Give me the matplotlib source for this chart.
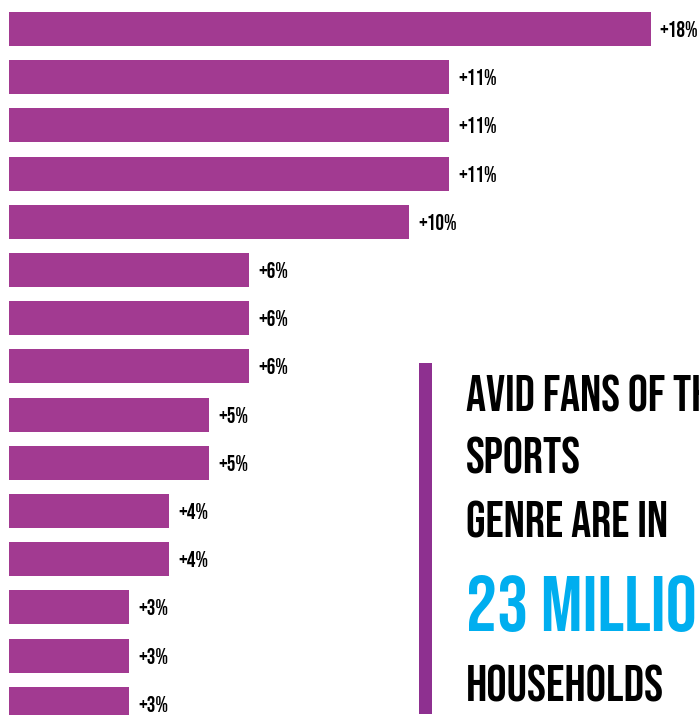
import matplotlib
matplotlib.use("Agg")
import matplotlib.pyplot as plt
import numpy as np
from matplotlib.patches import Rectangle

# Growth per genre, top to bottom
values = [18, 11, 11, 11, 10, 6, 6, 6, 5, 5, 4, 4, 3, 3, 3]
value_labels = [f"+{v}%" for v in values]

headline = ["AVID FANS OF THE", "SPORTS", "GENRE ARE IN"]
highlight = "23 MILLION"
footer = "HOUSEHOLDS"

bar_color = "#A23A91"
rule_color = "#8E3090"
blue = "#00AEEF"
FONT = ["Bebas Neue", "DejaVu Sans"]

W, H = 699, 715
fig = plt.figure(figsize=(W / 100, H / 100), dpi=100)
ax = fig.add_axes([0, 0, 1, 1])

# compress the axis past 11% so the longest bar still fits
knee, k = 11.0, 0.718


def fwd(x):
    x = np.asarray(x, dtype=float)
    return np.where(x <= knee, x, knee + (x - knee) * k)


def inv(y):
    y = np.asarray(y, dtype=float)
    return np.where(y <= knee, y, knee + (y - knee) / k)


ax.set_xscale("function", functions=(fwd, inv))

pitch = 48.2
y = np.arange(len(values))
ax.barh(y, values, height=34 / pitch, color=bar_color, left=0)

for yi, v, lab in zip(y, values, value_labels):
    ax.annotate(lab, (v, yi), xytext=(9, 0), textcoords="offset pixels",
                va="center", ha="left", fontsize=15.5, family=FONT,
                color="black")

x_lo = -9.5 / 40
x_hi = float(inv(17.2375))
ax.set_xlim(x_lo, x_hi)
ax.set_ylim((H - 29) / pitch, -29 / pitch)
ax.axis("off")

# vertical accent rule beside the callout
fig.add_artist(Rectangle((419 / W, 1 / H), 13 / W, (714 - 363) / H,
                         transform=fig.transFigure, color=rule_color, lw=0))

tx = 466 / W
baselines = [412, 473, 538]
for line, b in zip(headline, baselines):
    fig.text(tx, 1 - b / H, line, fontsize=36, family=FONT, color="black",
             va="baseline", ha="left")
fig.text(tx, 1 - 631 / H, highlight, fontsize=56, family=FONT, color=blue,
         va="baseline", ha="left")
fig.text(tx, 1 - 702 / H, footer, fontsize=36.5, family=FONT, color="black",
         va="baseline", ha="left")

fig.savefig("out.png", dpi=100)
